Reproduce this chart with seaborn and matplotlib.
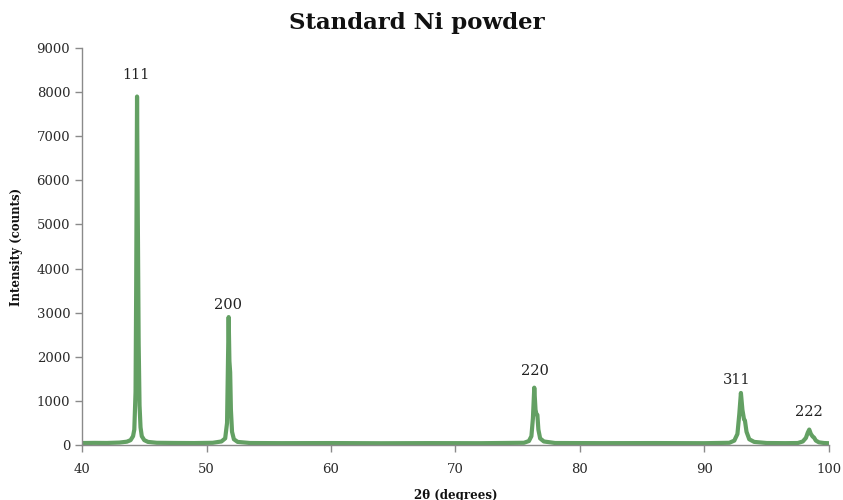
import matplotlib
matplotlib.use("Agg")
import matplotlib.pyplot as plt
import seaborn as sns
import pandas as pd

# Diffraction pattern of the Ni standard: 2-theta (deg) and counts
two_theta = [
    40.0, 41.0, 42.0, 43.0, 43.6, 43.9, 44.1, 44.2, 44.3, 44.35, 44.42, 44.48,
    44.55, 44.62, 44.7, 44.8, 45.0, 45.3, 46.0, 47.5, 49.0, 50.5, 51.2, 51.5,
    51.65, 51.72, 51.78, 51.84, 51.9, 51.96, 52.05, 52.2, 52.5, 53.5, 56.0,
    60.0, 64.0, 68.0, 72.0, 75.5, 75.9, 76.1, 76.22, 76.33, 76.43, 76.5, 76.58,
    76.66, 76.8, 77.1, 78.0, 82.0, 86.0, 90.0, 92.0, 92.4, 92.65, 92.8, 92.93,
    93.05, 93.18, 93.25, 93.38, 93.6, 94.0, 95.0, 96.5, 97.5, 97.9, 98.15, 98.3,
    98.42, 98.55, 98.7, 98.8, 98.95, 99.2, 99.6, 100.0,
]
intensity = [
    45, 48, 46, 55, 75, 110, 200, 350, 1200, 3500, 7900, 5200,
    2300, 900, 400, 200, 110, 70, 50, 46, 44, 50, 80, 150,
    500, 1800, 2900, 1900, 1650, 800, 300, 130, 70, 45, 42,
    44, 40, 43, 41, 50, 90, 200, 600, 1300, 800, 700, 680,
    350, 150, 80, 45, 42, 44, 41, 50, 100, 250, 700, 1180,
    800, 580, 560, 300, 130, 70, 45, 42, 45, 80, 160, 280,
    350, 250, 190, 170, 100, 60, 45, 40,
]

# Miller indices of the reflections and where their labels sit
hkl_labels = ["111", "200", "220", "311", "222"]
hkl_x = [44.34, 51.73, 76.35, 92.6, 98.4]
hkl_y = [8390, 3175, 1680, 1475, 750]

sns.set_style("ticks")
plt.rcParams["font.family"] = ["DejaVu Serif"]

df = pd.DataFrame({"two_theta": two_theta, "intensity": intensity})

fig = plt.figure(figsize=(8.43, 5.0), dpi=100)
ax = fig.add_axes([0.0973, 0.11, 0.886, 0.794])

sns.lineplot(data=df, x="two_theta", y="intensity", ax=ax,
             color="#63a063", linewidth=3.0, sort=True)

for lab, x, y in zip(hkl_labels, hkl_x, hkl_y):
    ax.text(x, y, lab, ha="center", va="center", fontsize=10.5,
            color="#222222")

ax.set_xlim(40, 100)
ax.set_ylim(0, 9000)
ax.set_xticks(range(40, 101, 10))
ax.set_yticks(range(0, 9001, 1000))

grey = "#8a8a8a"
for side in ("top", "right"):
    ax.spines[side].set_visible(False)
for side in ("left", "bottom"):
    ax.spines[side].set_color(grey)
    ax.spines[side].set_linewidth(1.0)
ax.tick_params(axis="both", colors=grey, labelcolor="#2a2a2a",
               labelsize=9.5, length=5, width=1.0, direction="out")
ax.tick_params(axis="x", pad=8)

ax.set_xlabel("2θ (degrees)", fontsize=8.5, fontweight="bold",
              color="#111111", labelpad=9)
ax.set_ylabel("Intensity (counts)", fontsize=8.5, fontweight="bold",
              color="#111111", labelpad=10)
fig.text(0.495, 0.955, "Standard Ni powder", ha="center", va="center",
         fontsize=16.5, fontweight="bold", color="#111111")

fig.savefig("out.png", dpi=100)
